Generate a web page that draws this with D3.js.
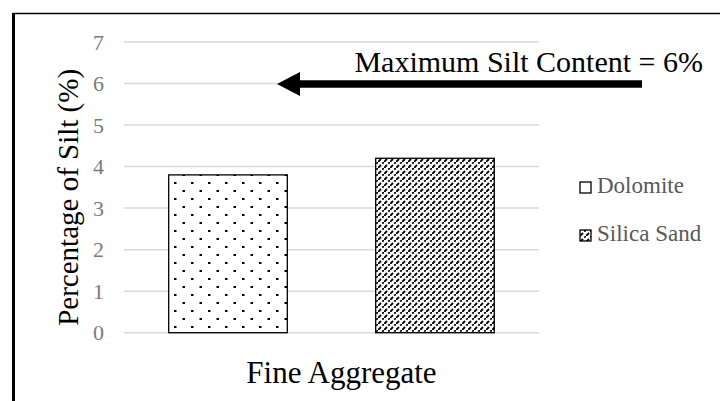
<!DOCTYPE html>
<html>
<head>
<meta charset="utf-8">
<script src="https://cdn.jsdelivr.net/npm/d3@7"></script>
<style>
  html, body { margin: 0; padding: 0; background: #fff; }
  svg { display: block; }
</style>
</head>
<body>
<svg id="chart" width="720" height="401"></svg>
<script>
// Silt content of the two fine aggregates
const category = "Fine Aggregate";
const series = ["Dolomite", "Silica Sand"];
const values = [3.8, 4.2];
const yTicks = [0, 1, 2, 3, 4, 5, 6, 7];
const limitValue = 6;
const limitLabel = "Maximum Silt Content = 6%";
const yTitle = "Percentage of Silt (%)";

const SERIF = '"Liberation Serif", "Times New Roman", Times, serif';
const svg = d3.select("#chart").style("font-family", SERIF);
const W = 720, H = 401;
const plot = { left: 124, right: 539, top: 42, bottom: 332.7 };

// Fill patterns
const defs = svg.append("defs");
const dots = defs.append("pattern")
  .attr("id", "pat-dots").attr("patternUnits", "userSpaceOnUse")
  .attr("width", 17).attr("height", 16).attr("x", 174).attr("y", 182);
dots.append("rect").attr("width", 17).attr("height", 16).attr("fill", "#fff");
dots.append("rect").attr("x", 0).attr("y", 0).attr("width", 2.5).attr("height", 2).attr("fill", "#000");
dots.append("rect").attr("x", 8.5).attr("y", 8).attr("width", 2.5).attr("height", 2).attr("fill", "#000");

const diag = defs.append("pattern")
  .attr("id", "pat-diag").attr("patternUnits", "userSpaceOnUse")
  .attr("width", 6).attr("height", 6);
diag.append("rect").attr("width", 6).attr("height", 6).attr("fill", "#fff");
diag.append("path").attr("d", "M-0.5,6.5 L3,3 M4.3,1.7 L6.5,-0.5")
  .attr("stroke", "#000").attr("stroke-width", 1.9).attr("fill", "none");

const fills = { "Dolomite": "url(#pat-dots)", "Silica Sand": "url(#pat-diag)" };

// Scales
const y = d3.scaleLinear().domain([0, 7]).range([plot.bottom, plot.top]);
const xCat = d3.scaleBand().domain([category]).range([plot.left, plot.right]);
const xSeries = d3.scaleBand().domain(series)
  .range([xCat(category), xCat(category) + xCat.bandwidth()])
  .paddingInner(0.427).paddingOuter(0.216);

// Gridlines
svg.append("g").selectAll("line").data(yTicks).join("line")
  .attr("x1", plot.left).attr("x2", plot.right)
  .attr("y1", d => y(d)).attr("y2", d => y(d))
  .attr("stroke", "#d9d9d9").attr("stroke-width", 1.5);

// Y axis labels
const yAxis = svg.append("g").attr("transform", `translate(${plot.left},0)`)
  .call(d3.axisLeft(y).tickValues(yTicks).tickFormat(d3.format("d")).tickSize(0).tickPadding(20));
yAxis.attr("font-family", SERIF).attr("font-size", 22);
yAxis.select(".domain").remove();
yAxis.selectAll("text")
  .attr("fill", "#7a7a7a")
  .style("font-family", SERIF).style("font-size", "22px");

// Bars
svg.append("g").selectAll("rect").data(series).join("rect")
  .attr("x", d => xSeries(d))
  .attr("width", xSeries.bandwidth())
  .attr("y", (d, i) => y(values[i]))
  .attr("height", (d, i) => y(0) - y(values[i]))
  .attr("fill", d => fills[d])
  .attr("stroke", "#000").attr("stroke-width", 1.3);

// Category label
svg.append("text")
  .attr("x", xCat(category) + xCat.bandwidth() / 2 + 10)
  .attr("y", 383)
  .attr("text-anchor", "middle")
  .style("font-family", SERIF).style("font-size", "31px").attr("fill", "#000")
  .text(category);

// Y title
svg.append("text")
  .attr("transform", `translate(78,${(plot.top + plot.bottom) / 2 + 10}) rotate(-90)`)
  .attr("text-anchor", "middle")
  .style("font-family", SERIF).style("font-size", "29px").attr("fill", "#000")
  .text(yTitle);

// Limit annotation with arrow pointing at the 6% level
const yLim = y(limitValue);
svg.append("text")
  .attr("x", 703).attr("y", 72)
  .attr("text-anchor", "end")
  .style("font-family", SERIF).style("font-size", "30px").attr("fill", "#000")
  .text(limitLabel);
svg.append("line")
  .attr("x1", 296).attr("x2", 642)
  .attr("y1", yLim + 0.5).attr("y2", yLim + 0.5)
  .attr("stroke", "#000").attr("stroke-width", 7.5);
svg.append("path")
  .attr("d", `M277,${yLim + 0.5} L300,${yLim - 11.5} L300,${yLim + 12.5} Z`)
  .attr("fill", "#000");

// Legend
const legend = svg.append("g").attr("transform", "translate(580,182)");
const li = legend.selectAll("g").data(series).join("g")
  .attr("transform", (d, i) => `translate(0,${i * 48})`);
li.append("rect").attr("width", 11).attr("height", 11)
  .attr("fill", d => d === "Dolomite" ? "#fff" : fills[d])
  .attr("stroke", "#000").attr("stroke-width", 1.3);
li.append("text").attr("x", 17).attr("y", 11)
  .style("font-family", SERIF).style("font-size", "23px").attr("fill", "#595959")
  .text(d => d);

// Chart frame
svg.append("rect").attr("x", 13.5).attr("y", 13.5)
  .attr("width", W).attr("height", H)
  .attr("fill", "none").attr("stroke", "#000").attr("stroke-width", 1.5);
svg.append("line").attr("x1", 13.5).attr("x2", 13.5).attr("y1", 13).attr("y2", H)
  .attr("stroke", "#000").attr("stroke-width", 3);
</script>
</body>
</html>
